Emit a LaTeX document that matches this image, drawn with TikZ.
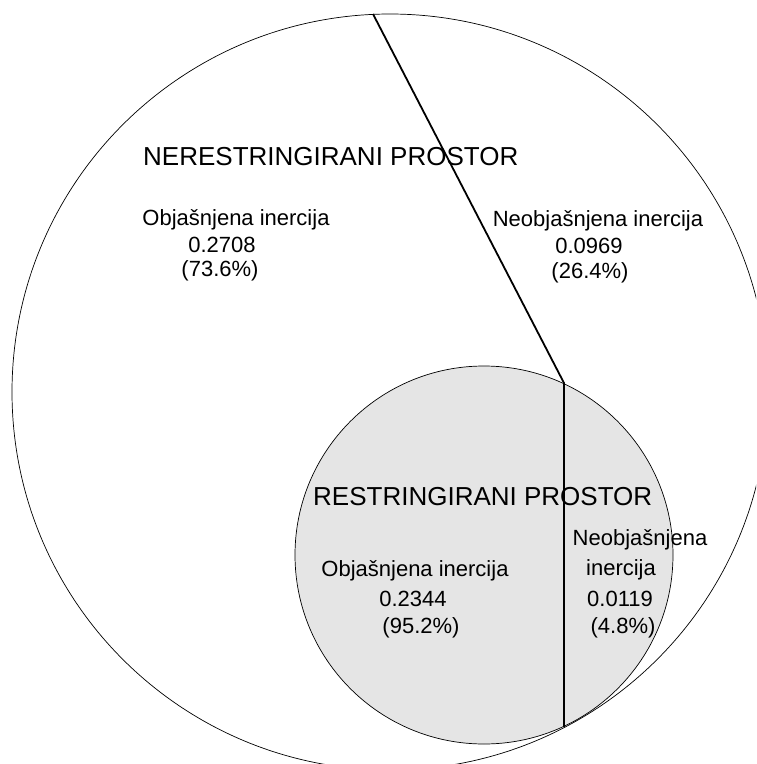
\documentclass[tikz,border=0pt]{standalone}
\usepackage{fontspec}
\setmainfont{Liberation Sans}
\usepackage{tikz}
\definecolor{restrgray}{RGB}{229,229,229}

\begin{document}
\begin{tikzpicture}[x=1pt, y=-1pt,
  naslov/.style={anchor=base west, inner sep=0pt, font=\fontsize{26}{30}\selectfont},
  tekst/.style={anchor=base, inner sep=0pt, font=\fontsize{22}{26}\selectfont},
  granica/.style={line width=0.7pt},
  podjela/.style={line width=1.8pt}]
  \useasboundingbox (0,0) rectangle (756,764);
  \clip (0,0) rectangle (756,764);

  % Prostori
  \draw[granica] (390,392) circle[radius=378];
  \draw[granica, fill=restrgray] (484,555) circle[radius=189];

  % Podjela inercije
  \coordinate (vrh) at (373,14);
  \coordinate (lom) at (564,383);
  \coordinate (dno) at (564,727);
  \draw[podjela, line join=round] (vrh) -- (lom) -- (dno);

  % Nerestringirani prostor
  \node[naslov] (nerNaslov) at (143,165) {NERESTRINGIRANI PROSTOR};
  \node[tekst] (nerObj) at (236,225) {Objašnjena inercija};
  \node[tekst] (nerObjVal) at (222,252) {0.2708};
  \node[tekst] (nerObjPct) at (220,276) {(73.6\%)};
  \node[tekst] (nerNeo) at (598,226) {Neobjašnjena inercija};
  \node[tekst] (nerNeoVal) at (589,253) {0.0969};
  \node[tekst] (nerNeoPct) at (590,278) {(26.4\%)};

  % Restringirani prostor
  \node[naslov] (resNaslov) at (313,505) {RESTRINGIRANI PROSTOR};
  \node[tekst] (resObj) at (415,576) {Objašnjena inercija};
  \node[tekst] (resObjVal) at (413,606) {0.2344};
  \node[tekst] (resObjPct) at (421,633) {(95.2\%)};
  \node[tekst] (resNeo) at (640,545) {Neobjašnjena};
  \node[tekst] (resNeo2) at (621,575) {inercija};
  \node[tekst] (resNeoVal) at (620,606) {0.0119};
  \node[tekst] (resNeoPct) at (623,633) {(4.8\%)};
\end{tikzpicture}
\end{document}
